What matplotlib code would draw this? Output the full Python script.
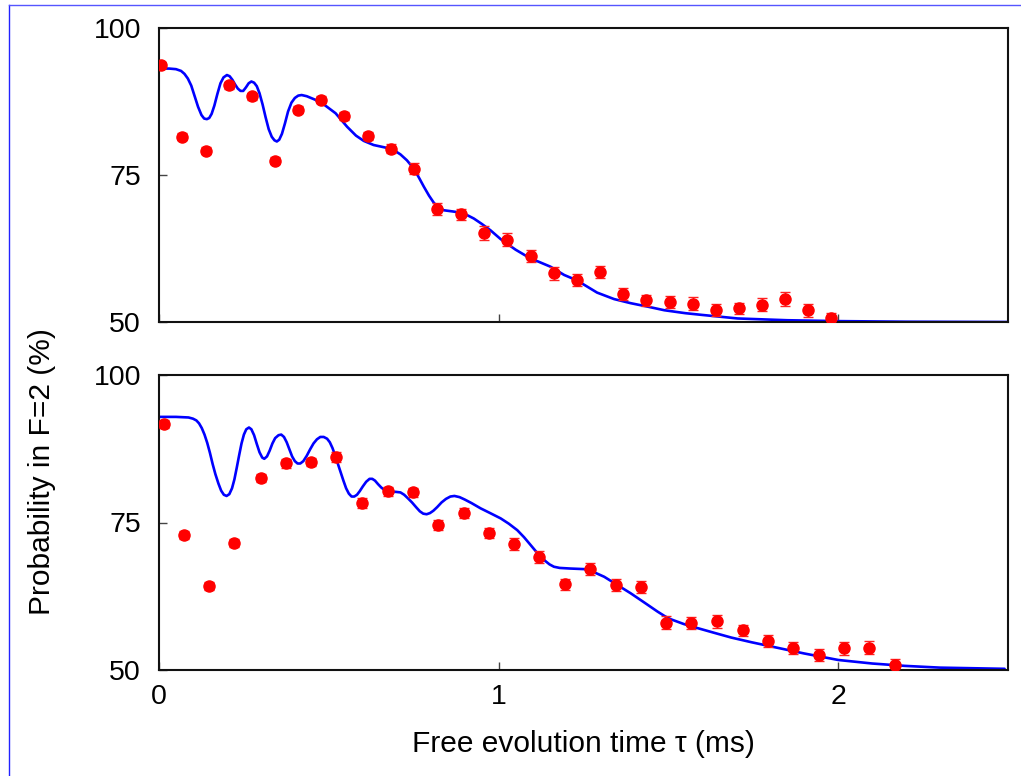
import matplotlib
matplotlib.use("Agg")
import matplotlib.pyplot as plt
from matplotlib.lines import Line2D

# ---------------- data ----------------
top_x = [0.006, 0.068, 0.139, 0.206, 0.274, 0.342, 0.410, 0.478, 0.546, 0.614,
         0.684, 0.752, 0.820, 0.888, 0.956, 1.024, 1.094, 1.162, 1.230, 1.298,
         1.366, 1.434, 1.504, 1.572, 1.640, 1.708, 1.776, 1.844, 1.912, 1.979]
top_y = [93.7, 81.5, 79.1, 90.3, 88.4, 77.4, 86.1, 87.8, 85.0, 81.6,
         79.5, 76.1, 69.2, 68.3, 65.1, 64.0, 61.2, 58.3, 57.1, 58.5,
         54.8, 53.7, 53.4, 53.1, 52.0, 52.3, 52.9, 53.9, 52.0, 50.7]
top_err = [0.5, 0.6, 0.6, 0.6, 0.6, 0.6, 0.6, 0.6, 0.7, 0.7,
           0.8, 0.9, 1.0, 1.0, 1.2, 1.1, 1.0, 1.1, 1.0, 1.1,
           1.0, 0.9, 1.0, 1.1, 1.0, 1.0, 1.1, 1.2, 1.1, 0.9]

bot_x = [0.016, 0.074, 0.147, 0.221, 0.299, 0.374, 0.449, 0.522, 0.598, 0.674,
         0.747, 0.821, 0.897, 0.971, 1.045, 1.119, 1.196, 1.270, 1.345, 1.419,
         1.493, 1.568, 1.643, 1.719, 1.793, 1.868, 1.943, 2.017, 2.092, 2.166]
bot_y = [91.7, 72.9, 64.2, 71.5, 82.6, 85.0, 85.2, 86.1, 78.3, 80.3,
         80.1, 74.6, 76.6, 73.2, 71.3, 69.2, 64.5, 67.1, 64.4, 64.1,
         58.0, 57.9, 58.3, 56.7, 54.9, 53.7, 52.5, 53.7, 53.8, 50.9]
bot_err = [0.6, 0.7, 0.7, 0.7, 0.7, 0.7, 0.7, 0.8, 0.8, 0.8,
           0.8, 0.9, 0.9, 0.9, 1.0, 1.0, 1.0, 1.0, 1.0, 1.0,
           1.1, 1.0, 1.1, 1.0, 1.0, 1.0, 1.0, 1.1, 1.1, 1.0]

top_fit_x = [0.0, 0.03, 0.05, 0.065, 0.075, 0.085, 0.095, 0.105, 0.115, 0.125,
             0.133, 0.141, 0.148, 0.155, 0.163, 0.172, 0.181, 0.190, 0.200, 0.208,
             0.216, 0.224, 0.232, 0.240, 0.248, 0.256, 0.264, 0.272, 0.280, 0.288,
             0.296, 0.305, 0.314, 0.323, 0.332, 0.340, 0.347, 0.354, 0.362, 0.371,
             0.380, 0.390, 0.400, 0.410, 0.420, 0.435, 0.46, 0.49, 0.52, 0.554,
             0.58, 0.603, 0.632, 0.672, 0.695, 0.711, 0.73, 0.75, 0.765, 0.78,
             0.795, 0.809, 0.822, 0.839, 0.865, 0.888, 0.91, 0.927, 0.95, 0.976,
             1.006, 1.05, 1.094, 1.12, 1.153, 1.193, 1.23, 1.29, 1.34, 1.389,
             1.44, 1.488, 1.55, 1.60, 1.704, 1.85, 2.0, 2.2, 2.5]
top_fit_y = [93.1, 93.1, 93.0, 92.7, 92.2, 91.4, 90.2, 88.4, 86.6, 85.2,
             84.6, 84.5, 84.7, 85.4, 86.8, 88.8, 90.6, 91.6, 92.0, 91.8,
             91.2, 90.4, 89.7, 89.3, 89.3, 89.9, 90.6, 90.9, 90.7, 90.1,
             88.9, 87.0, 84.8, 82.8, 81.5, 80.9, 80.7, 81.0, 82.0, 83.8,
             85.8, 87.3, 88.1, 88.5, 88.6, 88.4, 87.8, 86.8, 85.5, 83.2,
             81.7, 80.8, 80.1, 79.6, 79.1, 78.5, 77.5, 76.1, 74.6, 73.0,
             71.5, 70.3, 69.5, 69.0, 68.8, 68.6, 68.1, 67.6, 66.7, 65.6,
             64.1, 62.3, 60.8, 60.2, 59.4, 58.0, 57.1, 55.0, 53.9, 53.2,
             52.6, 52.0, 51.5, 51.2, 50.6, 50.3, 50.15, 50.05, 50.0]

bot_fit_x = [0.0, 0.05, 0.087, 0.100, 0.110, 0.118, 0.126, 0.134, 0.142, 0.150,
             0.158, 0.166, 0.175, 0.183, 0.191, 0.199, 0.207, 0.215, 0.222, 0.229,
             0.236, 0.243, 0.250, 0.257, 0.265, 0.272, 0.280, 0.288, 0.296, 0.304,
             0.310, 0.318, 0.326, 0.334, 0.342, 0.352, 0.360, 0.368, 0.376, 0.384,
             0.392, 0.400, 0.408, 0.416, 0.425, 0.435, 0.445, 0.455, 0.465, 0.475,
             0.485, 0.495, 0.503, 0.511, 0.519, 0.527, 0.535, 0.543, 0.551, 0.559,
             0.567, 0.575, 0.583, 0.591, 0.600, 0.610, 0.620, 0.628, 0.636, 0.645,
             0.655, 0.667, 0.681, 0.696, 0.711, 0.722, 0.733, 0.745, 0.757, 0.768,
             0.778, 0.788, 0.798, 0.808, 0.819, 0.832, 0.845, 0.858, 0.870, 0.885,
             0.900, 0.920, 0.947, 0.975, 1.006, 1.03, 1.055, 1.075, 1.094, 1.110,
             1.124, 1.137, 1.150, 1.163, 1.180, 1.21, 1.252, 1.28, 1.311, 1.35,
             1.389, 1.43, 1.468, 1.49, 1.507, 1.545, 1.586, 1.635, 1.685, 1.745,
             1.802, 1.9, 2.0, 2.1, 2.196, 2.3, 2.49]
bot_fit_y = [92.9, 92.9, 92.8, 92.6, 92.3, 91.8, 91.0, 89.9, 88.5, 86.8,
             84.9, 83.2, 81.6, 80.4, 79.7, 79.5, 79.8, 80.8, 82.3, 84.3,
             86.4, 88.4, 89.9, 90.8, 91.1, 90.8, 89.8, 88.3, 86.9, 86.0,
             85.8, 86.2, 87.2, 88.4, 89.3, 89.8, 89.9, 89.5, 88.6, 87.4,
             86.2, 85.4, 85.0, 85.0, 85.4, 86.3, 87.4, 88.4, 89.1, 89.5,
             89.5, 89.2, 88.6, 87.6, 86.3, 84.9, 83.5, 82.1, 80.8, 79.9,
             79.4, 79.4, 79.7, 80.3, 81.1, 81.9, 82.4, 82.4, 82.1, 81.5,
             80.9, 80.4, 80.1, 80.2, 80.1, 79.7, 79.1, 78.4, 77.6, 76.9,
             76.5, 76.4, 76.6, 77.0, 77.6, 78.4, 79.0, 79.4, 79.5, 79.3,
             78.9, 78.3, 77.4, 76.6, 75.7, 74.8, 73.7, 72.5, 71.2, 70.1,
             69.3, 68.5, 67.9, 67.5, 67.3, 67.2, 67.1, 66.6, 65.8, 64.4,
             63.0, 61.4, 59.9, 59.1, 58.6, 57.8, 57.1, 56.3, 55.5, 54.7,
             54.0, 52.8, 51.7, 51.1, 50.7, 50.4, 50.2]

x_ticks = [0, 1, 2]
y_ticks = [50, 75, 100]

# ---------------- figure ----------------
plt.rcParams['font.family'] = ['Liberation Sans', 'DejaVu Sans']
W, H = 1021, 776
fig = plt.figure(figsize=(W / 100, H / 100), dpi=100)

def frac_box(l, t, r, b):
    return [l / W, 1 - b / H, (r - l) / W, (b - t) / H]

ax1 = fig.add_axes(frac_box(159, 28, 1008, 322))
ax2 = fig.add_axes(frac_box(159, 375, 1008, 670))

panels = [(ax1, top_x, top_y, top_err, top_fit_x, top_fit_y),
          (ax2, bot_x, bot_y, bot_err, bot_fit_x, bot_fit_y)]

for ax, px, py, pe, fx, fy in panels:
    ax.plot(fx, fy, color='#0000ff', lw=1.9, zorder=2,
            solid_joinstyle='round', solid_capstyle='round')
    ax.errorbar(px, py, yerr=pe, fmt='o', color='#ff0000', ecolor='#ff2020',
                markersize=8.0, elinewidth=1.0, capsize=3.8, capthick=1.0,
                zorder=3)
    ax.set_xlim(0, 2.5)
    ax.set_ylim(50, 100)
    ax.set_xticks(x_ticks)
    ax.set_yticks(y_ticks)
    ax.tick_params(direction='in', length=6, width=1.0, color='#444444',
                   labelsize=20.5, top=False, right=False)
    ax.tick_params(axis='y', pad=13)
    ax.tick_params(axis='x', pad=10)
    for s in ax.spines.values():
        s.set_linewidth(1.5)
        s.set_color('#111111')

ax1.tick_params(axis='x', labelbottom=False)

fig.text(583 / W, 1 - 744 / H, 'Free evolution time \u03c4 (ms)', fontsize=21.5,
         ha='center', va='center')
fig.text(42 / W, 1 - 472 / H, 'Probability in F=2 (%)', fontsize=21.5,
         ha='center', va='center', rotation=90)

# thin blue frame (left and top edges)
fig.add_artist(Line2D([8.5 / W, 8.5 / W], [0, 1 - 4.5 / H], transform=fig.transFigure,
                      color='#2222ff', lw=1.0))
fig.add_artist(Line2D([8.5 / W, 1], [1 - 4.5 / H, 1 - 4.5 / H], transform=fig.transFigure,
                      color='#5555ff', lw=1.0))

fig.savefig('out.png', dpi=100)
